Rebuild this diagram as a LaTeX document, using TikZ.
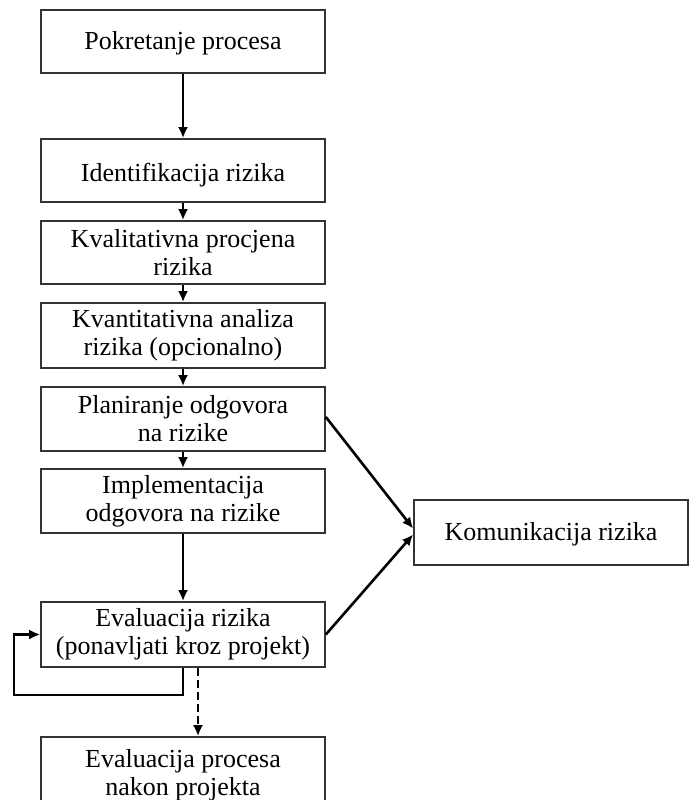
\documentclass[tikz,border=0pt]{standalone}
\usepackage{fontspec}
\setmainfont{Liberation Serif}
\usetikzlibrary{arrows.meta}
\newcommand{\lowertext}[2]{\raisebox{-#1}[\height][\depth]{#2}}
\begin{document}
\begin{tikzpicture}[x=1pt,y=-1pt,
  box/.style={draw=black!80,line width=1.7pt,rectangle,inner sep=0pt,
    minimum width=284pt,align=center,font=\fontsize{26}{28}\selectfont},
  conn/.style={line width=2.6pt,-{Latex[length=11pt,width=10pt]}},
  dconn/.style={conn,dash pattern=on 8pt off 4pt}]
\useasboundingbox (0,0) rectangle (689,800);
\clip (0,0) rectangle (689,800);
\node[box,minimum height=63pt] (b1) at (183,41.5) {\lowertext{2pt}{Pokretanje procesa}};
\node[box,minimum height=63pt] (b2) at (183,170.5) {\lowertext{5pt}{Identifikacija rizika}};
\node[box,minimum height=63pt] (b3) at (183,252.5) {Kvalitativna procjena\\rizika};
\node[box,minimum height=65pt] (b4) at (183,335.5) {Kvantitativna analiza\\rizika (opcionalno)};
\node[box,minimum height=64pt] (b5) at (183,419) {Planiranje odgovora\\na rizike};
\node[box,minimum height=64pt] (b6) at (183,501) {Implementacija\\odgovora na rizike};
\node[box,minimum height=65pt] (b7) at (183,634.5) {Evaluacija rizika\\(ponavljati kroz projekt)};
\node[box,minimum height=76pt] (b8) at (183,775) {Evaluacija procesa\\nakon projekta};
\node[box,minimum width=274pt,minimum height=65pt] (k) at (551,532.5) {\lowertext{2pt}{Komunikacija rizika}};
\draw[conn] (b1) -- (b2);
\draw[conn] (b2) -- (b3);
\draw[conn] (b3) -- (b4);
\draw[conn] (b4) -- (b5);
\draw[conn] (b5) -- (b6);
\draw[conn] (b6) -- (b7);
\draw[dconn] ([xshift=15pt]b7.south) -- ([xshift=15pt]b8.north);
\coordinate (l1) at (183,695);
\coordinate (l2) at (14,695);
\coordinate (l3) at (14,634.5);
\draw[conn] (b7.south) -- (l1) -- (l2) -- (l3) -- (b7.west);
\draw[conn] ([yshift=2pt]b5.east) -- ([yshift=4pt]k.west);
\draw[conn] (b7.east) -- ([yshift=-2pt]k.west);
\end{tikzpicture}
\end{document}
